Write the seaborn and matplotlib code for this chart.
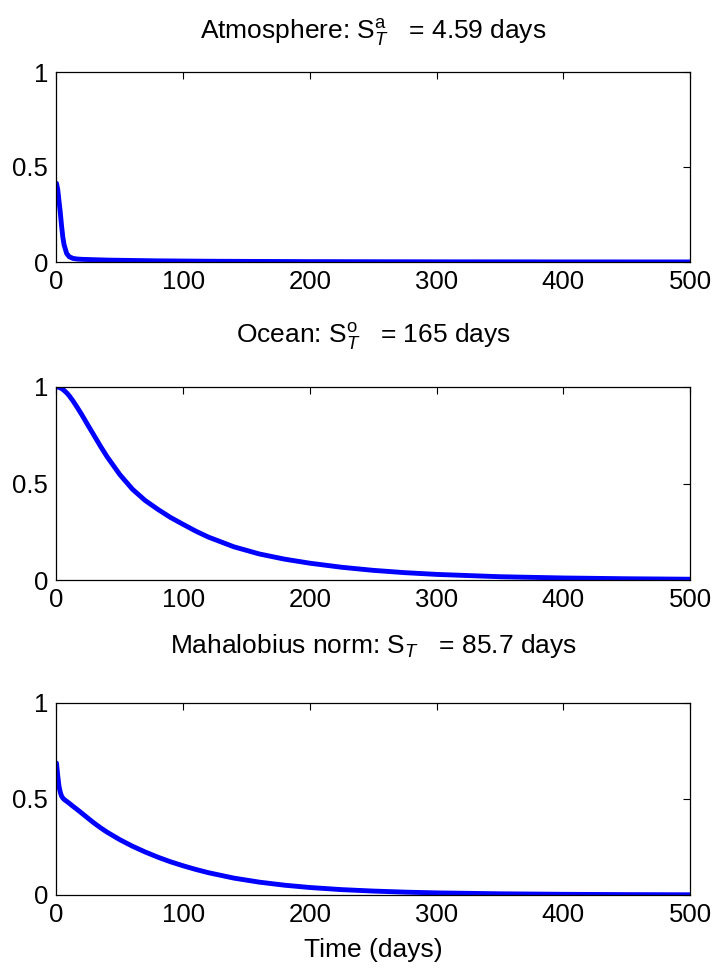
import numpy as np
import pandas as pd
import matplotlib
matplotlib.use("Agg")
import matplotlib.pyplot as plt
import seaborn as sns

# Time axis (days) and normalised sensitivity curves
time_days = [0, 1, 2, 3, 4, 5, 6, 8, 10, 13, 16, 20, 25, 30, 35, 40, 50, 60, 70,
             80, 90, 100, 110, 120, 140, 160, 180, 200, 225, 250, 275, 300, 350,
             400, 450, 500]

atmosphere = [0.414, 0.38, 0.32, 0.26, 0.19, 0.13, 0.09, 0.045, 0.028, 0.019,
              0.016, 0.014, 0.013, 0.012, 0.011, 0.010, 0.009, 0.008, 0.007,
              0.006, 0.0055, 0.005, 0.0045, 0.004, 0.0035, 0.003, 0.0025,
              0.002, 0.0018, 0.0015, 0.0013, 0.001, 0.0008, 0.0005, 0.0004,
              0.0003]

ocean = [1.0, 0.9995, 0.998, 0.995, 0.992, 0.987, 0.982, 0.97, 0.955, 0.928,
         0.898, 0.856, 0.80, 0.745, 0.69, 0.638, 0.546, 0.47, 0.412, 0.366,
         0.324, 0.288, 0.253, 0.222, 0.172, 0.135, 0.108, 0.087, 0.066, 0.050,
         0.038, 0.029, 0.017, 0.0105, 0.0065, 0.004]

mahalanobis = [0.687, 0.62, 0.565, 0.535, 0.515, 0.505, 0.498, 0.488, 0.478,
               0.462, 0.447, 0.426, 0.399, 0.373, 0.349, 0.327, 0.288, 0.254,
               0.224, 0.197, 0.173, 0.152, 0.133, 0.116, 0.088, 0.067, 0.051,
               0.039, 0.028, 0.0205, 0.015, 0.011, 0.0063, 0.0036, 0.0021,
               0.0012]

titles = [r"Atmosphere: S$^{\mathrm{a}}_{T}$   = 4.59 days",
          r"Ocean: S$^{\mathrm{o}}_{T}$   = 165 days",
          r"Mahalobius norm: S$_{T}$   = 85.7 days"]

x_ticks = [0, 100, 200, 300, 400, 500]
y_ticks = [0, 0.5, 1]
y_ticklabels = ["0", "0.5", "1"]

sns.set_style("white")
plt.rcParams["font.family"] = ["Liberation Sans", "DejaVu Sans"]
plt.rcParams["mathtext.fontset"] = "custom"
plt.rcParams["mathtext.rm"] = "Liberation Sans"
plt.rcParams["mathtext.it"] = "Liberation Sans:italic"
plt.rcParams["mathtext.default"] = "it"
plt.rcParams["text.color"] = "black"
plt.rcParams["axes.labelcolor"] = "black"

fig = plt.figure(figsize=(7.15, 9.68), dpi=100)
W, H = 715, 968
left_px, right_px = 56.5, 690
panels = [(72, 262), (387, 580), (703, 895)]
title_pads = [24, 32, 36]

series = [atmosphere, ocean, mahalanobis]
for (top_px, bot_px), values, title, tpad in zip(panels, series, titles, title_pads):
    ax = fig.add_axes([left_px / W, 1 - bot_px / H,
                       (right_px - left_px) / W, (bot_px - top_px) / H])
    df = pd.DataFrame({"t": time_days, "v": values})
    sns.lineplot(data=df, x="t", y="v", ax=ax, color="#0000ff", linewidth=3.5)
    ax.set_xlim(0, 500)
    ax.set_ylim(0, 1)
    ax.set_xticks(x_ticks)
    ax.set_yticks(y_ticks)
    ax.set_yticklabels(y_ticklabels)
    ax.set_xlabel("")
    ax.set_ylabel("")
    ax.tick_params(direction="in", length=5, width=0.8, top=True, right=True,
                   labelsize=18.5, colors="black", pad=6)
    for sp in ax.spines.values():
        sp.set_visible(True)
        sp.set_color("black")
        sp.set_linewidth(0.9)
    ax.set_title(title, fontsize=19, pad=tpad, color="black")

ax.set_xlabel("Time (days)", fontsize=19, labelpad=8)

fig.savefig("out.png", dpi=100, facecolor="white")
